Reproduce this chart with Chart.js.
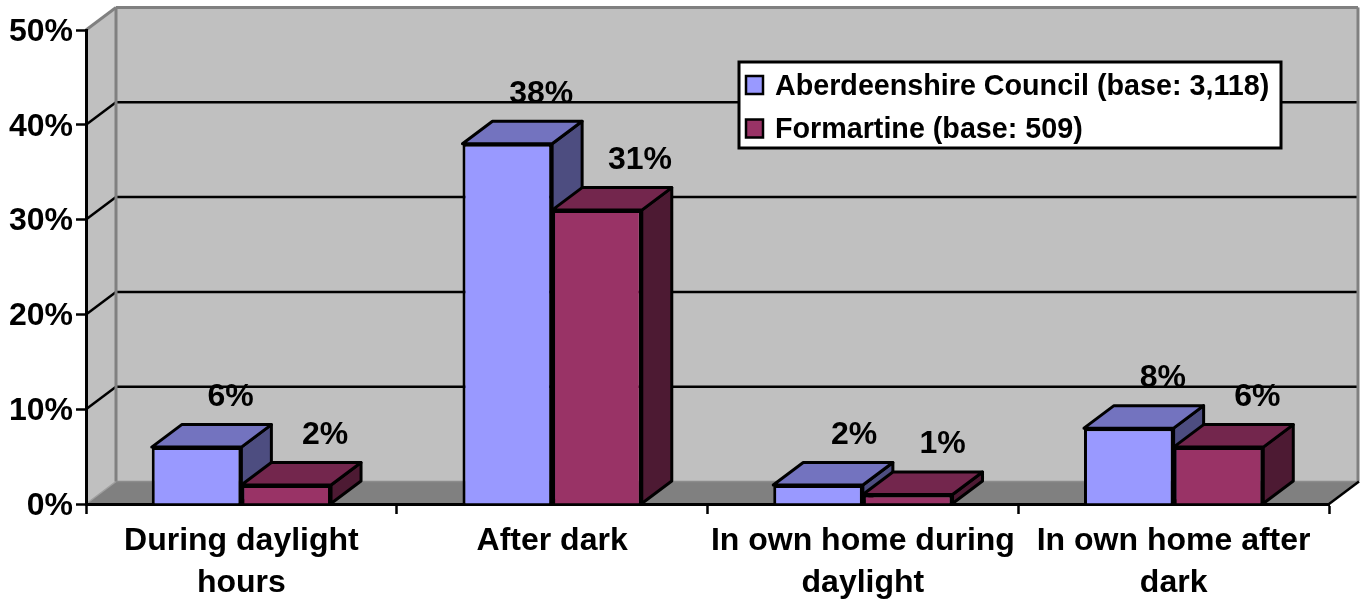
<!DOCTYPE html>
<html>
<head>
<meta charset="utf-8">
<style>html,body{margin:0;padding:0;background:#fff}canvas{display:block}</style>
<script src="https://cdn.jsdelivr.net/npm/chart.js@4"></script>
</head>
<body>
<canvas id="c" width="1365" height="599"></canvas>
<script>
const categories = [['During daylight','hours'],'After dark',['In own home during','daylight'],['In own home after','dark']];
const seriesNames = ['Aberdeenshire Council (base: 3,118)','Formartine (base: 509)'];
const aberdeenshire = [6,38,2,8];
const formartine = [2,31,1,6];
const yTicks = [0,10,20,30,40,50];

const FONT = 'bold 32px "Liberation Sans", Arial, sans-serif';
const DX = 30, DY = -22.5;
const shades = [
  {front:'#9999FF', top:'#7373BF', side:'#4D4D80'},
  {front:'#993366', top:'#73264D', side:'#4D1A33'}
];
const labelNudge = [[34,34,36,34],[39,43,35,39]];

function poly(ctx, pts, fill, stroke, w){
  ctx.beginPath();
  pts.forEach((p,i)=> i?ctx.lineTo(p[0],p[1]):ctx.moveTo(p[0],p[1]));
  ctx.closePath();
  if(fill){ctx.fillStyle=fill;ctx.fill();}
  if(stroke){ctx.strokeStyle=stroke;ctx.lineWidth=w;ctx.lineJoin='round';ctx.stroke();}
}
function seg(ctx,x1,y1,x2,y2,c,w){
  ctx.beginPath();ctx.moveTo(x1,y1);ctx.lineTo(x2,y2);ctx.strokeStyle=c;ctx.lineWidth=w;ctx.stroke();
}

const walls = {
  id:'walls',
  beforeDraw(chart){
    const {ctx,chartArea:a,scales:{y}} = chart;
    const top=y.getPixelForValue(50), bot=y.getPixelForValue(0);
    ctx.save();
    poly(ctx,[[a.left,top],[a.left+DX,top+DY],[a.right+DX,top+DY],[a.right+DX,bot+DY],[a.right,bot],[a.left,bot]],'#C0C0C0');
    poly(ctx,[[a.left,bot],[a.left+DX,bot+DY],[a.right+DX,bot+DY],[a.right,bot]],'#808080');
    yTicks.forEach(v=>{
      const p=y.getPixelForValue(v);
      if(v>0&&v<50){
        seg(ctx,a.left,p,a.left+DX,p+DY,'#000',2.5);
        seg(ctx,a.left+DX,p+DY,a.right+DX,p+DY,'#000',2.5);
      }
    });
    seg(ctx,a.left,top,a.left+DX,top+DY,'#808080',3);
    seg(ctx,a.left,bot,a.left+DX,bot+DY,'#A0A0A0',1.5);
    seg(ctx,a.left+DX,top+DY,a.right+DX-1,top+DY,'#808080',3);
    seg(ctx,a.left+DX,top+DY,a.left+DX,bot+DY,'#808080',3);
    seg(ctx,a.right+DX-1,top+DY,a.right+DX-1,bot+DY,'#808080',3);
    seg(ctx,a.left+DX,bot+DY,a.right+DX,bot+DY,'#8C8C8C',1.5);
    seg(ctx,a.right,bot,a.right+DX,bot+DY,'#000',2.5);
    ctx.restore();
  },
  beforeDatasetsDraw(chart){
    const {ctx} = chart;
    ctx.save();
    chart.data.datasets.forEach((ds,s)=>{
      chart.getDatasetMeta(s).data.forEach(el=>{
        const l=el.x-el.width/2, r=el.x+el.width/2, t=el.y, b=el.base;
        poly(ctx,[[r,t],[r+DX,t+DY],[r+DX,b+DY],[r,b]],shades[s].side,'#000',3);
        poly(ctx,[[l,t],[l+DX,t+DY],[r+DX,t+DY],[r,t]],shades[s].top,'#000',3);
      });
    });
    ctx.restore();
  },
  afterDraw(chart){
    const {ctx} = chart;
    ctx.save();
    ctx.font=FONT;ctx.fillStyle='#000';ctx.textAlign='center';ctx.textBaseline='middle';
    chart.data.datasets.forEach((ds,s)=>{
      chart.getDatasetMeta(s).data.forEach((el,i)=>{
        ctx.fillText(ds.data[i]+'%', el.x+labelNudge[s][i], el.y-50);
      });
    });
    // legend box
    const bx=739,by=62,bw=542,bh=86;
    ctx.fillStyle='#fff';ctx.fillRect(bx,by,bw,bh);
    ctx.strokeStyle='#000';ctx.lineWidth=3;ctx.strokeRect(bx,by,bw,bh);
    ctx.textAlign='left';
    chart.data.datasets.forEach((ds,s)=>{
      const cy=85+s*43.5;
      ctx.fillStyle=shades[s].front;ctx.fillRect(746,cy-9,17,18);
      ctx.strokeStyle='#000';ctx.lineWidth=2.5;ctx.strokeRect(746,cy-9,17,18);
      ctx.fillStyle='#000';ctx.font='bold 28.7px "Liberation Sans", Arial, sans-serif';
      ctx.fillText(ds.label,775,cy+2);
    });
    ctx.restore();
  }
};

new Chart(document.getElementById('c'),{
  type:'bar',
  plugins:[walls],
  data:{
    labels:categories,
    datasets:[
      {label:seriesNames[0],data:aberdeenshire,backgroundColor:shades[0].front,borderColor:'#000',borderWidth:3},
      {label:seriesNames[1],data:formartine,backgroundColor:shades[1].front,borderColor:'#000',borderWidth:3}
    ]
  },
  options:{
    responsive:false,animation:false,
    layout:{padding:{top:30,right:36,left:0,bottom:0}},
    categoryPercentage:0.577,barPercentage:1,
    plugins:{legend:{display:false},tooltip:{enabled:false},title:{display:false}},
    scales:{
      x:{
        afterFit(s){s.height=95;},
        border:{color:'#000',width:3},
        grid:{drawOnChartArea:false,drawTicks:true,tickLength:10,tickColor:'#000',tickWidth:2.5,offset:true},
        ticks:{color:'#000',maxRotation:0,minRotation:0,autoSkip:false,padding:6,font:{family:'"Liberation Sans", Arial, sans-serif',size:32,weight:'bold',lineHeight:1.3125}}
      },
      y:{
        min:0,max:50,
        afterFit(s){s.width=86;},
        afterBuildTicks(s){s.ticks=yTicks.map(v=>({value:v}));},
        border:{color:'#000',width:3},
        grid:{drawOnChartArea:false,drawTicks:true,tickLength:10,tickColor:'#000',tickWidth:2.5},
        ticks:{color:'#000',padding:3,labelOffset:2,callback:v=>v+'%',font:{family:'"Liberation Sans", Arial, sans-serif',size:32,weight:'bold'}}
      }
    }
  }
});
</script>
</body>
</html>
